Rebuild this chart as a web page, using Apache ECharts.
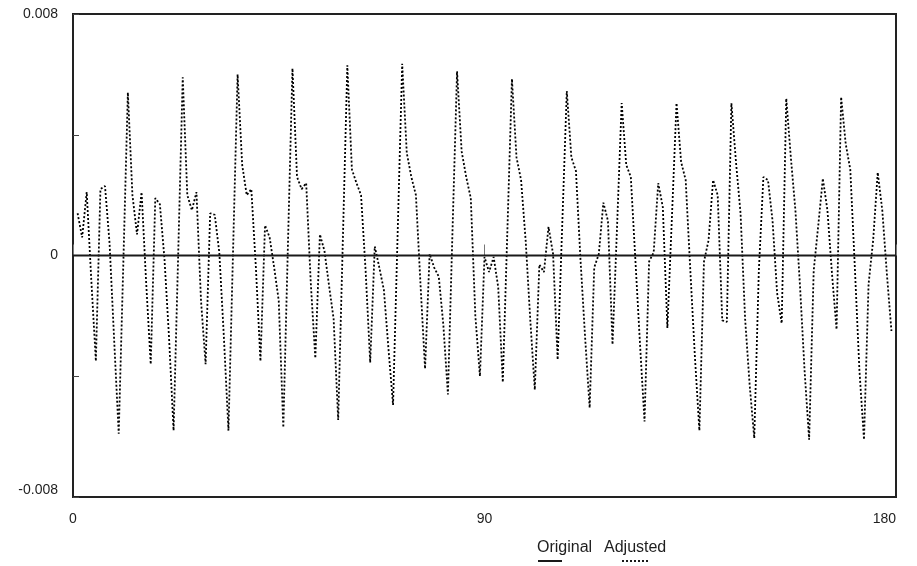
<!DOCTYPE html>
<html>
<head>
<meta charset="utf-8">
<script src="https://cdn.jsdelivr.net/npm/echarts@6/dist/echarts.min.js"></script>
<style>
  html, body { margin: 0; padding: 0; background: #ffffff; }
  #chart { width: 917px; height: 566px; }
</style>
</head>
<body>
<div id="chart"></div>
<script>
// Axis ticks
const xTicks = [0, 90, 180];
const yLabelled = [-0.008, 0, 0.008];

// Original series: flat at zero across the whole span
const originalLine = [[0, 0], [180, 0]];

// Adjusted series, monthly values for months 1..179
const adjusted = [
  0.0014, 0.0006, 0.0021, -0.0008, -0.0035, 0.0022, 0.0023, 0.0004, -0.0028, -0.0059, -0.0003, 0.0054,
  0.0020, 0.0007, 0.0021, -0.0009, -0.0036, 0.0019, 0.0017, -0.0001, -0.0027, -0.0058, 0.0000, 0.0059,
  0.0020, 0.0015, 0.0021, -0.0015, -0.0036, 0.0014, 0.00135, 0.0001, -0.0027, -0.0058, 0.0001, 0.0060,
  0.0030, 0.0020, 0.0022, -0.0004, -0.0035, 0.0010, 0.0006, -0.0004, -0.0015, -0.0057, 0.0003, 0.0062,
  0.0026, 0.0022, 0.0024, -0.0009, -0.0034, 0.0007, 0.00015, -0.0010, -0.0021, -0.00545, 0.0004, 0.0063,
  0.00285, 0.0024, 0.0020, -0.0005, -0.00355, 0.0003, -0.0004, -0.00115, -0.0031, -0.00495, 0.0007, 0.00635,
  0.0034, 0.0026, 0.0020, -0.00095, -0.00375, 0.00005, -0.0004, -0.0007, -0.0023, -0.0046, 0.0008, 0.0061,
  0.00345, 0.0026, 0.0019, -0.0020, -0.0040, -0.00005, -0.00055, -0.00005, -0.00105, -0.0042, 0.0008, 0.00585,
  0.00325, 0.0025, 0.0005, -0.0021, -0.00445, -0.0003, -0.00055, 0.00095, 0.00005, -0.00345, 0.0010, 0.00545,
  0.00325, 0.0028, -0.00015, -0.0027, -0.00505, -0.0004, 0.00005, 0.00175, 0.00115, -0.00295, 0.0010, 0.00505,
  0.0030, 0.0026, -0.00015, -0.0029, -0.0055, -0.0002, 0.0001, 0.0024, 0.0016, -0.0024, 0.0013, 0.00505,
  0.0031, 0.0025, -0.00045, -0.0033, -0.0058, -0.0002, 0.0005, 0.0025, 0.0020, -0.00215, -0.0022, 0.00505,
  0.0031, 0.0014, -0.0021, -0.0043, -0.00605, -0.0005, 0.0026, 0.0025, 0.00115, -0.00125, -0.00225, 0.0052,
  0.00325, 0.0015, -0.0010, -0.0038, -0.0061, -0.0005, 0.0010, 0.00255, 0.0015, -0.0006, -0.00245, 0.00525,
  0.0037, 0.00285, -0.0004, -0.0038, -0.0061, -0.00095, 0.0005, 0.00275, 0.0015, -0.0006, -0.0025
];
const months = adjusted.map((_, k) => k + 1);
const adjustedPoints = adjusted.map((v, k) => [months[k], v]);

const labelFont = { color: '#1e1e1e', fontFamily: 'Liberation Sans, Arial, sans-serif', fontSize: 14 };
const legendFont = '16px "Liberation Sans", Arial, sans-serif';

const chart = echarts.init(document.getElementById('chart'), null, { renderer: 'canvas' });
chart.setOption({
  animation: false,
  backgroundColor: '#ffffff',
  grid: {
    left: 73, right: 21, top: 14, bottom: 69,
    show: true, borderColor: '#222', borderWidth: 2, backgroundColor: 'transparent'
  },
  xAxis: {
    type: 'value',
    min: xTicks[0], max: xTicks[xTicks.length - 1], interval: xTicks[1] - xTicks[0],
    axisLine: { show: false },
    splitLine: { show: false },
    axisTick: { show: true, inside: true, length: 11, lineStyle: { color: '#777', width: 1 } },
    axisLabel: Object.assign({ margin: 15, alignMaxLabel: 'right', formatter: v => String(v) }, labelFont)
  },
  yAxis: {
    type: 'value',
    min: -0.008, max: 0.008, interval: 0.004,
    axisLine: { show: false },
    splitLine: { show: false },
    axisTick: { show: true, inside: true, length: 6, lineStyle: { color: '#444', width: 1 } },
    axisLabel: Object.assign({
      margin: 15,
      verticalAlignMinLabel: 'bottom',
      formatter: v => {
        const hit = yLabelled.find(t => Math.abs(t - v) < 1e-9);
        if (hit === undefined) return '';
        return hit === 0 ? '0' : hit.toFixed(3);
      }
    }, labelFont)
  },
  series: [
    {
      name: 'Original',
      type: 'line',
      data: originalLine,
      symbol: 'none',
      silent: true,
      lineStyle: { color: '#1a1a1a', width: 2, type: 'solid' },
      z: 3
    },
    {
      name: 'Adjusted',
      type: 'line',
      data: adjustedPoints,
      symbol: 'none',
      silent: true,
      lineStyle: { color: '#000', width: 1.8, type: [2, 2] },
      z: 2
    }
  ],
  graphic: [
    { type: 'text', left: 537, top: 540, style: { text: 'Original', fill: '#1e1e1e', font: legendFont } },
    { type: 'text', left: 604, top: 540, style: { text: 'Adjusted', fill: '#1e1e1e', font: legendFont } },
    { type: 'line', shape: { x1: 538, y1: 561, x2: 562, y2: 561 }, style: { stroke: '#1a1a1a', lineWidth: 2 } },
    { type: 'line', shape: { x1: 622, y1: 561, x2: 650, y2: 561 }, style: { stroke: '#000', lineWidth: 1.8, lineDash: [2, 2] } }
  ]
});
</script>
</body>
</html>
